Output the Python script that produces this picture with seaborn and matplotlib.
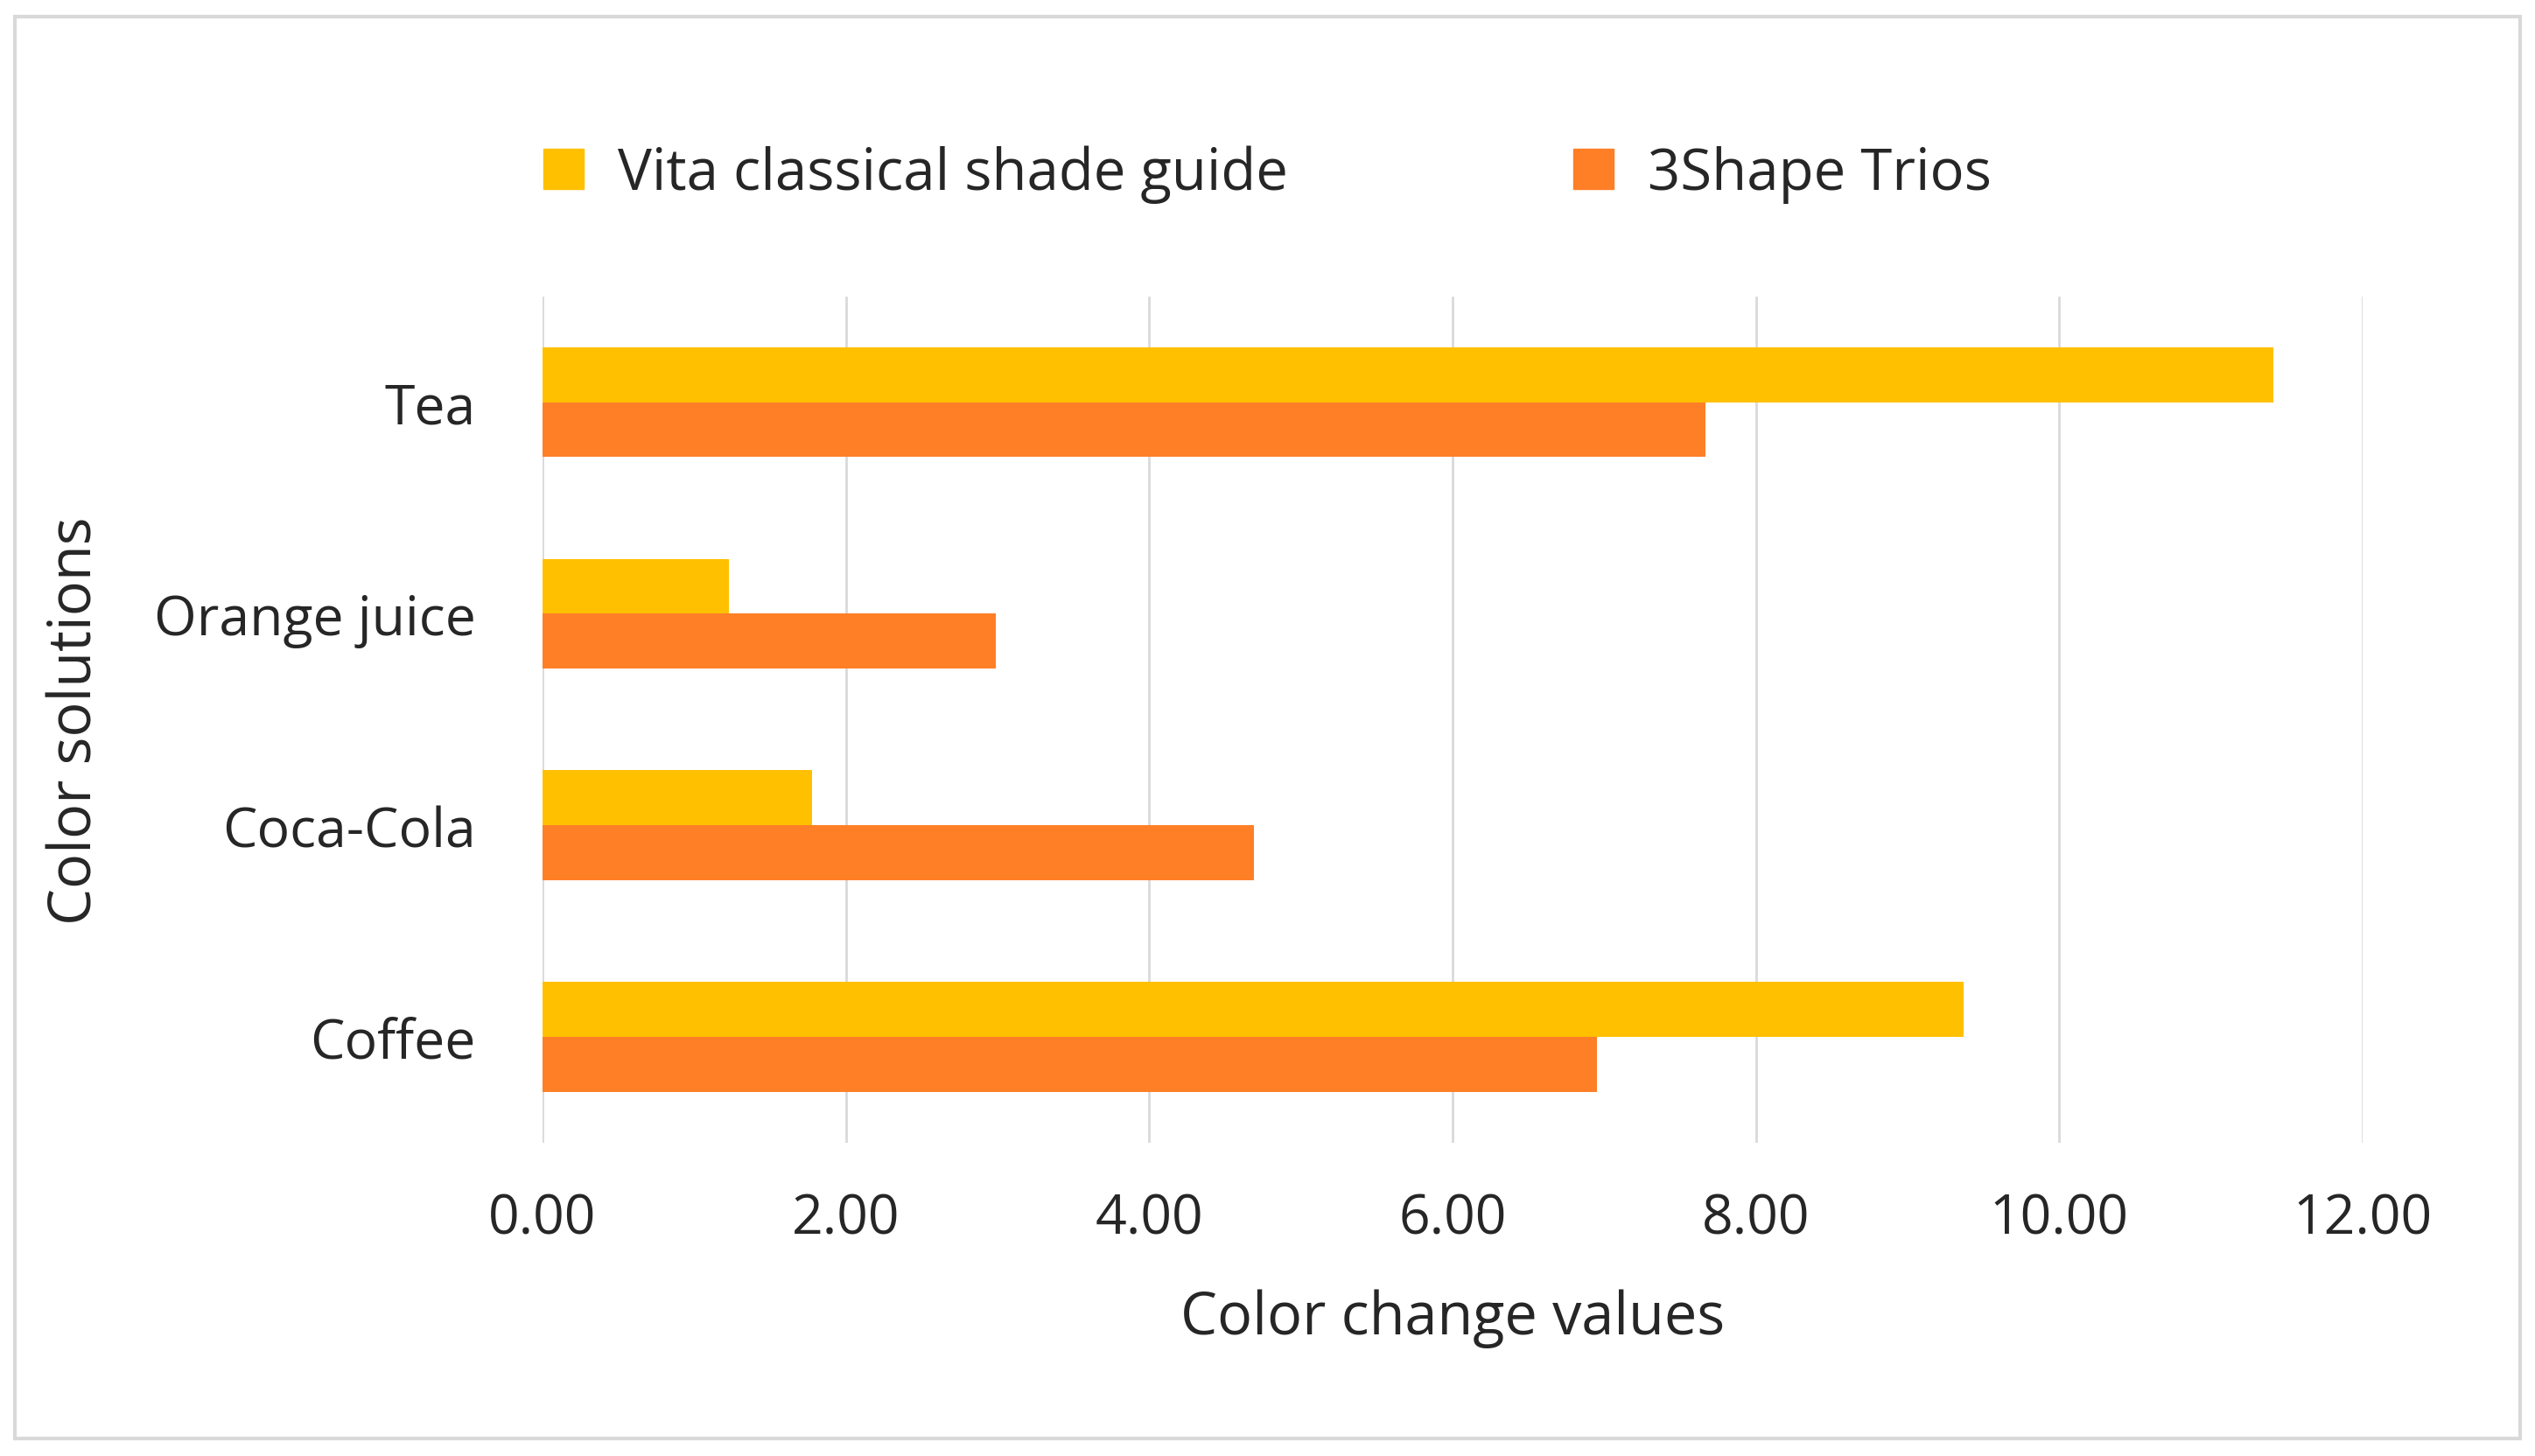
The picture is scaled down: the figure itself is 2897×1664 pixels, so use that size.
import matplotlib
matplotlib.use('Agg')
import matplotlib.pyplot as plt
import pandas as pd
import seaborn as sns
from matplotlib.patches import Rectangle

categories = ['Tea', 'Orange juice', 'Coca-Cola', 'Coffee']
vita = [11.41, 1.23, 1.78, 9.37]
trios = [7.67, 2.99, 4.69, 6.95]
series = ['Vita classical shade guide', '3Shape Trios']
colors = ['#FFC000', '#FF7F27']
ticks = [0, 2, 4, 6, 8, 10, 12]

df = pd.DataFrame({
    'Solution': categories * 2,
    'Value': vita + trios,
    'Series': [series[0]] * 4 + [series[1]] * 4,
})

sns.set_style('white')
plt.rcParams['font.family'] = ['Open Sans', 'DejaVu Sans']

fig = plt.figure(figsize=(28.97, 16.65), dpi=100)
ax = fig.add_axes([0.214, 0.215, 0.718, 0.581])
sns.barplot(data=df, y='Solution', x='Value', hue='Series', order=categories,
            hue_order=series, palette=colors, orient='h', width=0.52,
            saturation=1, linewidth=0, ax=ax, legend=False)

ax.set_xlim(0, 12)
ax.set_xticks(ticks)
ax.set_xticklabels([f'{t:.2f}' for t in ticks], fontsize=45)
ax.tick_params(axis='y', labelsize=45, length=0, pad=55)
ax.tick_params(axis='x', length=0, pad=40)
ax.xaxis.grid(True, color='#D9D9D9', lw=2)
ax.set_axisbelow(True)
for s in ax.spines.values():
    s.set_visible(False)
ax.set_xlabel('Color change values', fontsize=48, labelpad=35)
ax.set_ylabel('Color solutions', fontsize=48, labelpad=40)

handles = [Rectangle((0, 0), 1, 1, color=c) for c in colors]
fig.legend(handles, series, loc='center', bbox_to_anchor=(0.5, 0.88), ncol=2,
           frameon=False, fontsize=47, handlelength=0.7, handleheight=0.7,
           columnspacing=5, handletextpad=0.6)

fig.patches.append(Rectangle((0.006, 0.012), 0.988, 0.976, transform=fig.transFigure,
                             fill=False, edgecolor='#D9D9D9', lw=3))
fig.savefig('out.png', dpi=100)
